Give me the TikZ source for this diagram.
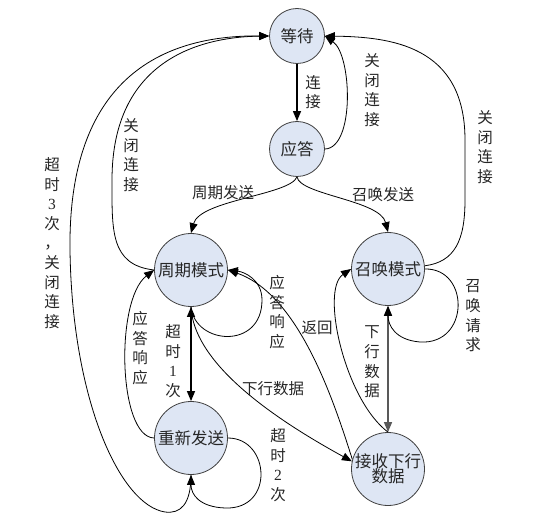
\documentclass[tikz,border=0pt]{standalone}
\usepackage{fontspec}
\setmainfont{Liberation Serif}
\newfontfamily\cjk{Noto Sans CJK SC}
\usetikzlibrary{arrows.meta}
\newcommand\dg[1]{{\rmfamily #1}}
\tikzset{
  state/.style={circle, draw=black!75, line width=0.8pt, fill=stfill, inner sep=0pt,
    font=\cjk\fontsize{16.5}{18}\selectfont, text=black!85, align=center},
  big/.style={minimum size=73pt},
  small/.style={minimum size=55pt},
  conn/.style={line width=0.8pt, -{Triangle[length=10pt,width=8pt]}},
  lbl/.style={inner sep=0pt, align=center, text=black!85, font=\cjk\fontsize{15.5}{19.6}\selectfont},
}
\definecolor{stfill}{HTML}{DEE6F4}
\begin{document}
\begin{tikzpicture}[x=1pt,y=-1pt]
\useasboundingbox[fill=white] (0,0) rectangle (538,529);
% states
\node[state,small] (W) at (297,36) {等待};
\node[state,small] (A) at (297,149) {应答};
\node[state,big] (P) at (191,270) {周期模式};
\node[state,big] (C) at (388,269) {召唤模式};
\node[state,big] (R) at (191,438) {重新发送};
\node[state,big] (D) at (388,469) {接收下行\\[-3pt]数据};
% connectors
\draw[conn,line width=1.2pt] (W.south) -- (A.north);
\draw[conn] (A.east) .. controls (355,148) and (352,55) .. (W.east);
\draw[conn] (C.5) .. controls (455,262) and (465,240) .. (465,200) -- (465,140) .. controls (465,45) and (390,37) .. (W.east);
\draw[conn] (P.west) .. controls (110,265) and (112,230) .. (112,180) .. controls (112,60) and (200,37) .. (W.west);
\draw[conn] (R.south) .. controls (191,505) and (180,514) .. (165,512) .. controls (120,505) and (72,400) .. (70,250) .. controls (68,90) and (150,35) .. (W.west);
\draw[conn] (A.south) .. controls (290,195) and (200,200) .. (P.north);
\draw[conn] (A.south) .. controls (300,195) and (380,200) .. (C.north);
\draw[conn,{Triangle[length=10pt,width=8pt]}-{Triangle[length=10pt,width=8pt]},line width=1.3pt] (P.south) -- (R.north);
\draw[conn] (R.west) .. controls (118,437) and (115,300) .. (P.west);
\draw[conn] (P.south) .. controls (195,345) and (262,350) .. (262,300) .. controls (262,280) and (245,272) .. (P.east);
\draw[conn] (D.165) .. controls (335,405) and (300,295) .. (P.east);
\draw[conn] (P.south) .. controls (193,350) and (240,400) .. (D.168);
\draw[conn,{Triangle[length=10pt,width=8pt]}-{Triangle[length=10pt,width=8pt]},line width=1.4pt,draw=black!65] (C.south) -- (D.north);
\draw[conn] (D.north) .. controls (345,400) and (320,290) .. (C.west);
\draw[conn] (C.east) .. controls (470,268) and (470,345) .. (420,342) .. controls (395,340) and (388,325) .. (C.south);
\draw[conn] (R.east) .. controls (270,438) and (275,510) .. (225,508) .. controls (200,507) and (191,495) .. (R.south);
% labels
\node[lbl] (l1) at (313,92) {连\\接};
\node[lbl] (l2) at (372,90) {关\\闭\\连\\接};
\node[lbl] (l3) at (485,147) {关\\闭\\连\\接};
\node[lbl] (l4) at (383,195) {召唤发送};
\node[lbl] (l5) at (223,193) {周期发送};
\node[lbl] (l6) at (131,155) {关\\闭\\连\\接};
\node[lbl] (l7) at (52,243) {超\\时\\\dg{3}\\次\\，\\关\\闭\\连\\接};
\node[lbl] (l8) at (277,312) {应\\答\\响\\应};
\node[lbl] (l9) at (317,328) {返回};
\node[lbl] (l10) at (140,348) {应\\答\\响\\应};
\node[lbl] (l11) at (173,361) {超\\时\\\dg{1}\\次};
\node[lbl] (l12) at (273,389) {下行数据};
\node[lbl] (l13) at (278,465) {超\\时\\\dg{2}\\次};
\node[lbl] (l14) at (372,362) {下\\行\\数\\据};
\node[lbl] (l15) at (473,316) {召\\唤\\请\\求};
\end{tikzpicture}
\end{document}
